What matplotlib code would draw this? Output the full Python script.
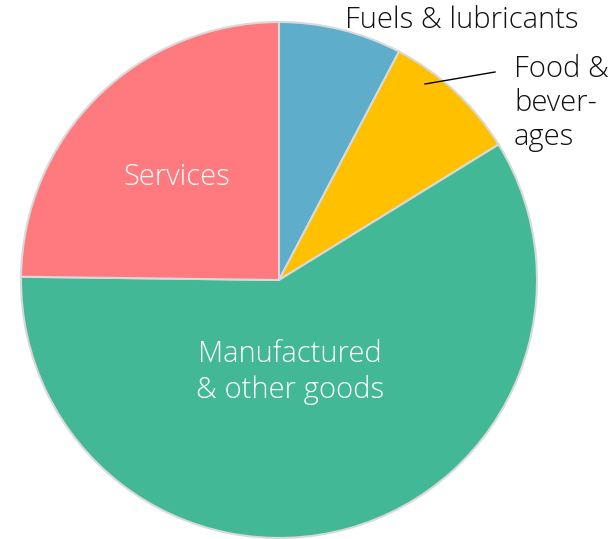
import matplotlib.pyplot as plt

# Share of exports by category (percent), clockwise from 12 o'clock
categories = ['Fuels & lubricants', 'Food & beverages', 'Manufactured & other goods', 'Services']
shares = [7.7, 8.5, 59.0, 24.8]
colors = ['#5DADCB', '#FFC000', '#43B896', '#FF7A7F']

plt.rcParams['font.family'] = ['Open Sans', 'DejaVu Sans']
plt.rcParams['font.weight'] = 'light'

fig = plt.figure(figsize=(6.16, 5.39), dpi=100)
ax = fig.add_axes([0, 0, 1, 1])

ax.pie(shares, colors=colors, startangle=90, counterclock=False,
       center=(279, 259), radius=258, frame=True,
       wedgeprops=dict(edgecolor='#D9D9D9', linewidth=1.5))
ax.set_xlim(0, 616)
ax.set_ylim(0, 539)
ax.set_aspect('equal')
ax.axis('off')

# labels
ax.text(345, 519, 'Fuels & lubricants', fontsize=21, ha='left', va='center', color='#111111')
ax.text(514, 436, 'Food &\nbever-\nages', fontsize=21, ha='left', va='center',
        color='#111111', linespacing=1.2)
ax.plot([425, 495], [455, 467], color='black', linewidth=1)
ax.text(177, 362, 'Services', fontsize=21, ha='center', va='center', color='white')
ax.text(290, 167, 'Manufactured\n& other goods', fontsize=21, ha='center', va='center',
        color='white', linespacing=1.25)

fig.savefig('out.png', dpi=100)
